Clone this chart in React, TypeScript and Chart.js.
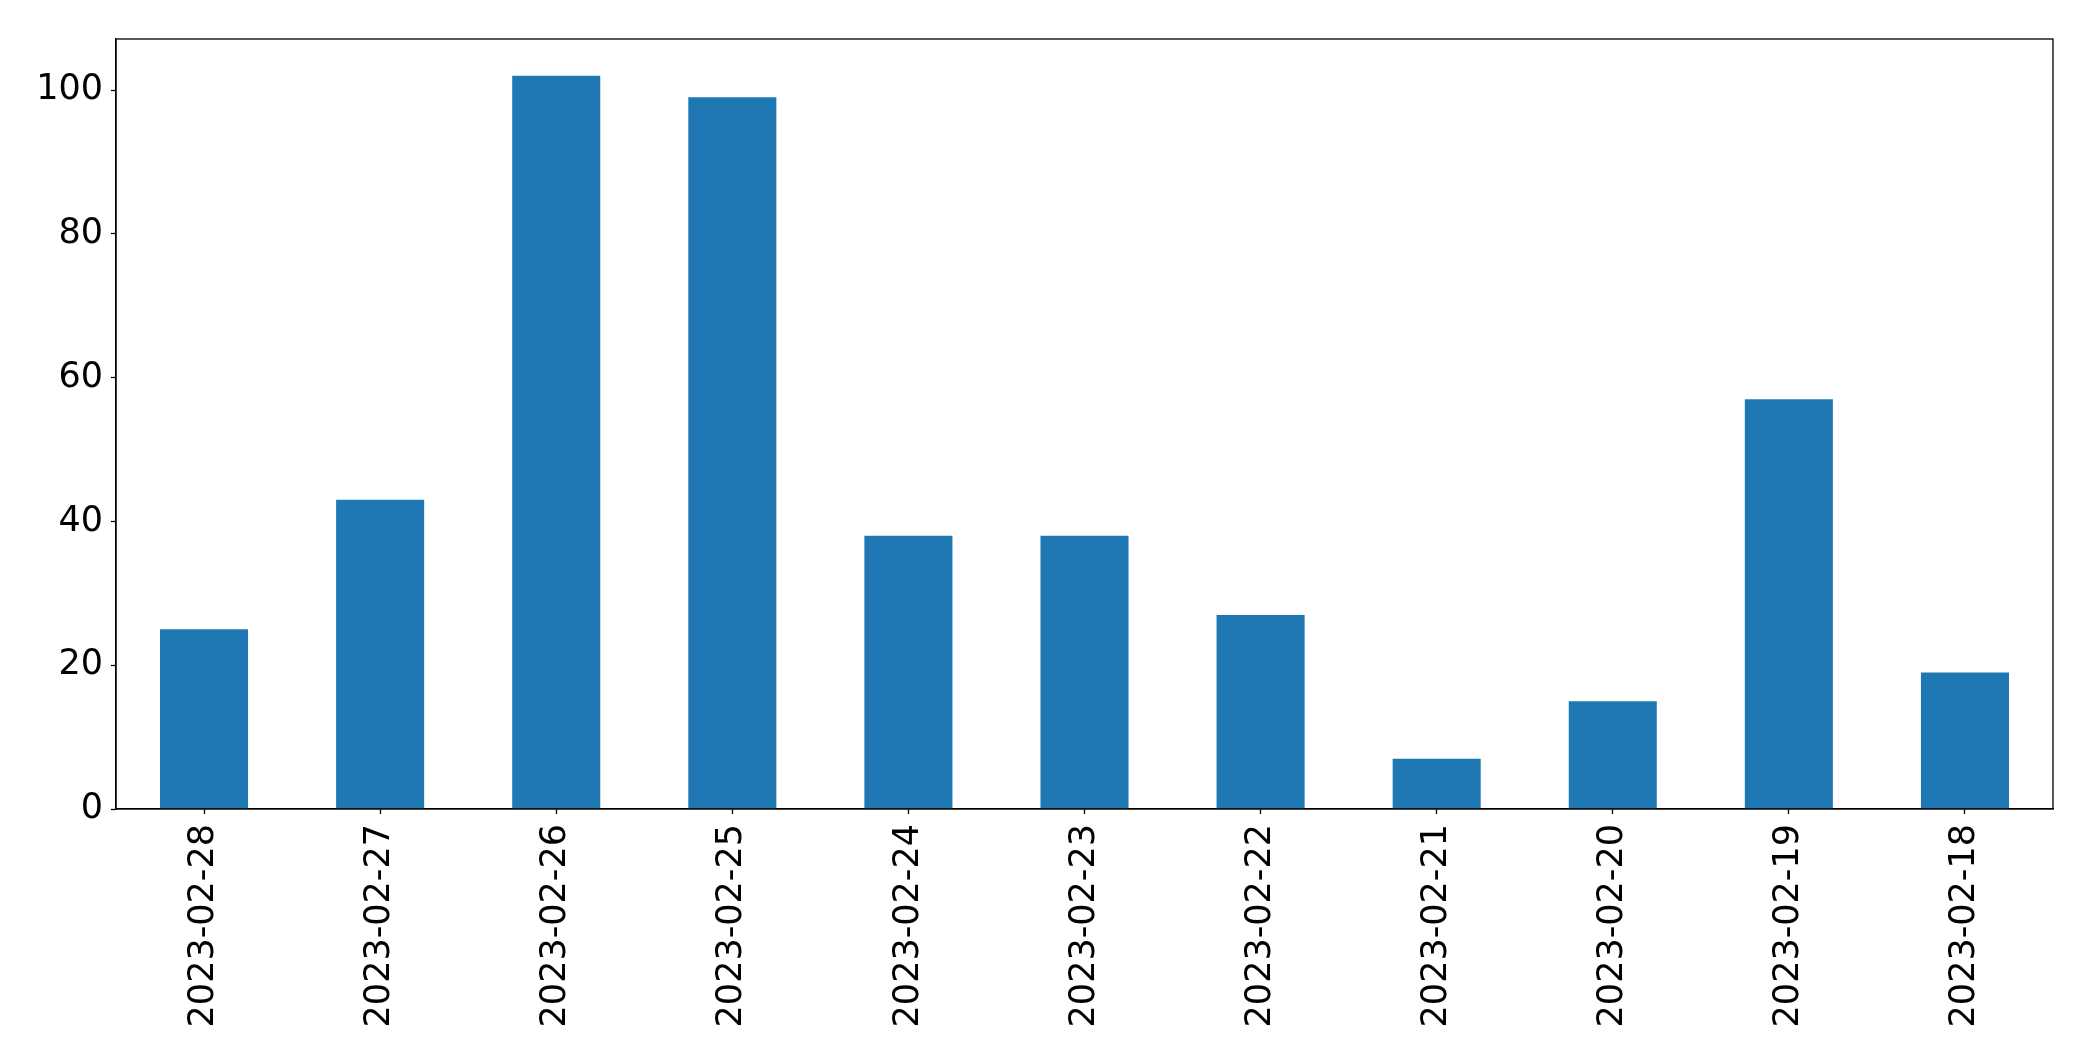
import React, { useEffect, useRef } from "react";
import { Chart, registerables } from "chart.js";

Chart.register(...registerables);

const categories = [
  "2023-02-28", "2023-02-27", "2023-02-26", "2023-02-25", "2023-02-24", "2023-02-23",
  "2023-02-22", "2023-02-21", "2023-02-20", "2023-02-19", "2023-02-18",
];
const values = [25, 43, 102, 99, 38, 38, 27, 7, 15, 57, 19];
const yTicks = [0, 20, 40, 60, 80, 100];

const W = 2093;
const H = 1061;

const frame = {
  id: "frame",
  afterDraw(chart: any) {
    const { ctx, chartArea } = chart;
    ctx.save();
    ctx.strokeStyle = "#000";
    ctx.lineWidth = 1.3;
    ctx.strokeRect(chartArea.left, chartArea.top, chartArea.right - chartArea.left, chartArea.bottom - chartArea.top);
    ctx.restore();
  },
};

export default function App() {
  const ref = useRef<HTMLCanvasElement>(null);
  useEffect(() => {
    document.body.style.margin = "0";
    const chart = new Chart(ref.current!, {
      type: "bar",
      data: {
        labels: categories,
        datasets: [
          {
            data: values,
            backgroundColor: "#1f77b4",
            categoryPercentage: 1,
            barPercentage: 0.5,
          },
        ],
      },
      options: {
        responsive: false,
        animation: false,
        devicePixelRatio: 1,
        layout: { padding: { top: 39, right: 40, left: 0, bottom: 0 } },
        plugins: { legend: { display: false }, tooltip: { enabled: false } },
        scales: {
          x: {
            offset: true,
            grid: { display: true, drawOnChartArea: false, offset: false, tickLength: 5, color: "#000", tickWidth: 1.3 },
            border: { display: true, color: "#000", width: 1.3 },
            ticks: {
              minRotation: 90,
              maxRotation: 90,
              autoSkip: false,
              padding: 10,
              color: "#000",
              font: { family: "DejaVu Sans", size: 35 },
            },
            afterFit(axis: any) {
              axis.height = 252;
            },
          },
          y: {
            min: 0,
            max: 107.1,
            afterBuildTicks(axis: any) {
              axis.ticks = yTicks.map((v) => ({ value: v }));
            },
            grid: { display: true, drawOnChartArea: false, tickLength: 5, color: "#000", tickWidth: 1.3 },
            border: { display: true, color: "#000", width: 1.3 },
            ticks: {
              padding: 8,
              color: "#000",
              font: { family: "DejaVu Sans", size: 35 },
            },
            afterFit(axis: any) {
              axis.width = 116;
            },
          },
        },
      },
      plugins: [frame],
    });
    return () => chart.destroy();
  }, []);
  return (
    <div style={{ position: "fixed", left: 0, top: 0, width: W, height: H, background: "#fff" }}>
      <canvas ref={ref} width={W} height={H} style={{ width: W, height: H, display: "block" }} />
    </div>
  );
}
